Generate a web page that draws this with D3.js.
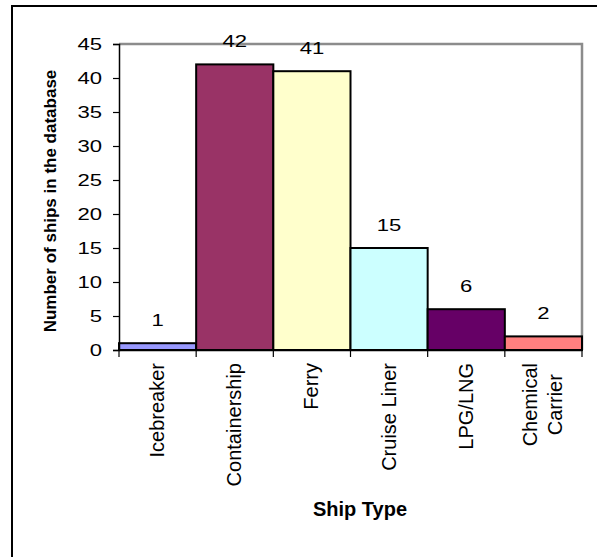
<!DOCTYPE html>
<html>
<head>
<meta charset="utf-8">
<script src="https://cdn.jsdelivr.net/npm/d3@7"></script>
<style>
  html, body { margin: 0; padding: 0; background: #fff; }
  svg { display: block; }
  text { font-family: "Liberation Sans", Arial, sans-serif; fill: #000; }
</style>
</head>
<body>
<svg id="chart" width="597" height="557"></svg>
<script>
const categories = ["Icebreaker", "Containership", "Ferry", "Cruise Liner", "LPG/LNG", "Chemical\nCarrier"];
const values = [1, 42, 41, 15, 6, 2];
const colors = ["#9999FF", "#993366", "#FFFFCC", "#CCFFFF", "#660066", "#FF8080"];
const yTicks = [0, 5, 10, 15, 20, 25, 30, 35, 40, 45];
const yTitle = "Number of ships in the database";
const xTitle = "Ship Type";

const svg = d3.select("#chart");
const L = 119, R = 582, T = 44, B = 350;

// outer frame
svg.append("rect").attr("x", 12).attr("y", 6).attr("width", 700).attr("height", 700)
  .attr("fill", "#fff").attr("stroke", "#000").attr("stroke-width", 2);

const x = d3.scaleBand().domain(categories).range([L, R]).padding(0);
const y = d3.scaleLinear().domain([0, 45]).range([B, T]);

// plot area border (gray top/right)
svg.append("path")
  .attr("d", `M${L},${T}H${R}V${B}`)
  .attr("fill", "none").attr("stroke", "#8c8c8c").attr("stroke-width", 2.5);

// bars
svg.append("g").selectAll("rect").data(categories).join("rect")
  .attr("x", d => x(d))
  .attr("y", (d, i) => y(values[i]))
  .attr("width", x.bandwidth())
  .attr("height", (d, i) => y(0) - y(values[i]))
  .attr("fill", (d, i) => colors[i])
  .attr("stroke", "#000").attr("stroke-width", 2);

// y axis
const yAxis = d3.axisLeft(y).tickValues(yTicks).tickSize(6).tickPadding(10).tickFormat(d3.format("d"));
const gy = svg.append("g").attr("transform", `translate(${L},0)`).call(yAxis);
gy.select(".domain").attr("stroke", "#000").attr("stroke-width", 1.5);
gy.selectAll(".tick line").attr("stroke", "#000").attr("stroke-width", 1.2);
gy.selectAll(".tick text")
  .style("font-size", "16px")
  .attr("dy", "0.36em")
  .attr("x", null)
  .attr("text-anchor", "end")
  .attr("transform", "translate(-17,0) scale(1.38,1)");

// x axis
const xAxis = d3.axisBottom(x).tickSize(0).tickFormat("");
const gx = svg.append("g").attr("transform", `translate(0,${B})`).call(xAxis);
gx.select(".domain").attr("stroke", "#000").attr("stroke-width", 1.5);
gx.selectAll(".tick").remove();
const bounds = categories.map(c => x(c)).concat([R]);
gx.selectAll("line.bt").data(bounds).join("line").attr("class", "bt")
  .attr("x1", d => d).attr("x2", d => d).attr("y1", 0).attr("y2", 7)
  .attr("stroke", "#000").attr("stroke-width", 1.2);

// category labels (rotated)
const fs = 20, lh = 25;
categories.forEach((c, i) => {
  const lines = c.split("\n");
  const cx = x(c) + x.bandwidth() / 2;
  const g = svg.append("g");
  const texts = lines.map((ln, j) => {
    const bx = cx + 6.5 - ((lines.length - 1) * lh) / 2 + j * lh;
    return g.append("text").text(ln).style("font-size", fs + "px")
      .attr("text-anchor", "middle")
      .attr("data-bx", bx);
  });
  const maxLen = d3.max(texts, t => t.node().getComputedTextLength());
  const cy = 363 + maxLen / 2;
  texts.forEach(t => {
    const bx = +t.attr("data-bx");
    t.attr("transform", `translate(${bx},${cy}) rotate(-90)`);
  });
});

// value labels
svg.append("g").selectAll("text").data(categories).join("text")
  .text((d, i) => values[i])
  .style("font-size", "16px")
  .attr("text-anchor", "middle")
  .attr("transform", (d, i) => `translate(${x(d) + x.bandwidth() / 2},${y(values[i]) - 17}) scale(1.38,1)`);

// axis titles
svg.append("text").text(yTitle)
  .style("font-size", "17px").style("font-weight", "bold")
  .attr("text-anchor", "middle")
  .attr("transform", `translate(56,${(T + B) / 2 + 4}) rotate(-90)`);

svg.append("text").text(xTitle)
  .style("font-size", "20px").style("font-weight", "bold")
  .attr("text-anchor", "middle")
  .attr("x", 360).attr("y", 516);
</script>
</body>
</html>
